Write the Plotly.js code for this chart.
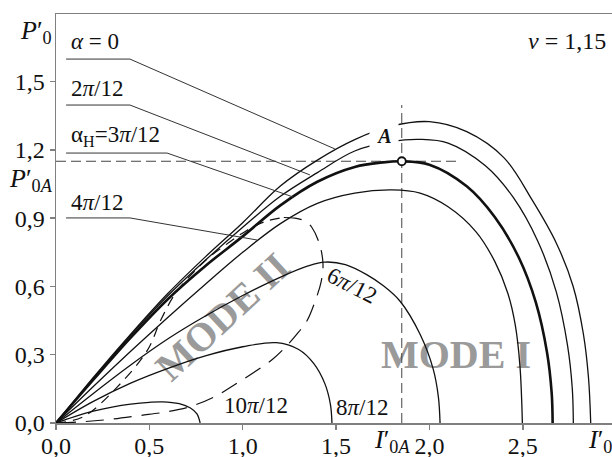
<!DOCTYPE html>
<html>
<head>
<meta charset="utf-8">
<script src="https://cdn.plot.ly/plotly-3.0.1.min.js"></script>
<style>
  html, body { margin: 0; padding: 0; background: #fff; }
  #chart { width: 612px; height: 457px; }
</style>
</head>
<body>
<div id="chart"></div>
<script>
// Load characteristics P'0(I'0) for several control angles, nu = 1.15

// alpha = 0
const iAlpha0 = [0, 0.2, 0.4, 0.6, 0.8, 1.0, 1.2, 1.4, 1.6, 1.8, 2.0, 2.2, 2.4, 2.55, 2.68, 2.77, 2.825, 2.852, 2.864];
const pAlpha0 = [0, 0.2, 0.39, 0.57, 0.73, 0.88, 1.04, 1.155, 1.245, 1.305, 1.324, 1.28, 1.165, 0.98, 0.79, 0.6, 0.39, 0.2, 0];

// alpha = 2pi/12
const iAlpha2 = [0, 0.2, 0.4, 0.6, 0.8, 1.0, 1.2, 1.4, 1.6, 1.8, 1.95, 2.1, 2.3, 2.45, 2.58, 2.68, 2.74, 2.765, 2.771];
const pAlpha2 = [0, 0.195, 0.385, 0.56, 0.715, 0.86, 0.995, 1.1, 1.195, 1.237, 1.246, 1.23, 1.13, 0.99, 0.8, 0.575, 0.34, 0.155, 0];

// alpha_H = 3pi/12 (passes through the operating point A)
const iAlpha3 = [0, 0.2, 0.4, 0.6, 0.8, 1.0, 1.2, 1.4, 1.6, 1.75, 1.852, 2.0, 2.2, 2.35, 2.48, 2.57, 2.63, 2.655, 2.66];
const pAlpha3 = [0, 0.19, 0.375, 0.545, 0.69, 0.82, 0.955, 1.06, 1.125, 1.145, 1.15, 1.135, 1.04, 0.905, 0.725, 0.53, 0.31, 0.13, 0];

// alpha = 4pi/12
const iAlpha4 = [0, 0.2, 0.4, 0.6, 0.8, 1.0, 1.2, 1.4, 1.6, 1.8, 1.95, 2.1, 2.25, 2.35, 2.42, 2.46, 2.485, 2.498];
const pAlpha4 = [0, 0.16, 0.315, 0.465, 0.61, 0.75, 0.875, 0.965, 1.01, 1.024, 1.01, 0.95, 0.84, 0.71, 0.57, 0.43, 0.25, 0];

// alpha = 6pi/12
const iAlpha6 = [0, 0.2, 0.4, 0.6, 0.8, 1.0, 1.2, 1.35, 1.44, 1.55, 1.664, 1.75, 1.843, 1.95, 2.02, 2.048, 2.057];
const pAlpha6 = [0, 0.13, 0.255, 0.37, 0.47, 0.56, 0.64, 0.69, 0.707, 0.696, 0.652, 0.605, 0.535, 0.39, 0.238, 0.115, 0];

// alpha = 8pi/12
const iAlpha8 = [0, 0.2, 0.4, 0.6, 0.8, 1.0, 1.18, 1.3, 1.38, 1.44, 1.47, 1.478];
const pAlpha8 = [0, 0.095, 0.175, 0.24, 0.295, 0.335, 0.353, 0.323, 0.262, 0.173, 0.081, 0];

// alpha = 10pi/12
const iAlpha10 = [0, 0.1, 0.2, 0.3, 0.4, 0.5, 0.57, 0.66, 0.72, 0.755, 0.772];
const pAlpha10 = [0, 0.028, 0.052, 0.07, 0.083, 0.091, 0.093, 0.085, 0.066, 0.04, 0];

// Boundary between MODE I and MODE II: left branch (short dashes)
const iBoundLeft = [0, 0.145, 0.33, 0.49, 0.56, 0.64, 0.74, 0.83, 0.93, 1.02, 1.12, 1.22];
const pBoundLeft = [0, 0.027, 0.16, 0.32, 0.45, 0.57, 0.665, 0.735, 0.795, 0.845, 0.885, 0.903];

// Boundary between MODE I and MODE II: right and lower branch (long dashes)
const iBoundRight = [1.22, 1.28, 1.34, 1.37, 1.41, 1.43, 1.42, 1.39, 1.345, 1.30, 1.24, 1.16, 1.055, 0.95, 0.86, 0.73, 0.6, 0.45, 0.3, 0.15, 0];
const pBoundRight = [0.903, 0.9, 0.885, 0.86, 0.79, 0.7, 0.62, 0.54, 0.45, 0.4, 0.343, 0.28, 0.22, 0.165, 0.12, 0.075, 0.05, 0.033, 0.017, 0.006, 0];

// Operating point A
const I0A = 1.852;
const P0A = 1.15;

// Axis ticks
const xTickVals = [0, 0.5, 1.0, 1.5, 2.0, 2.5];
const xTickText = ['0,0', '0,5', '1,0', '1,5', '2,0', '2,5'];
const yTickVals = [0, 0.3, 0.6, 0.9, 1.2, 1.5];
const yTickText = ['0,0', '0,3', '0,6', '0,9', '1,2', '1,5'];

const SERIF = 'Liberation Serif';
const INK = '#111111';

function curve(x, y, width, dash) {
  return {
    type: 'scatter', mode: 'lines', x: x, y: y,
    line: { color: INK, width: width, shape: 'spline', smoothing: 1, dash: dash || 'solid' },
    hoverinfo: 'skip'
  };
}

const traces = [
  curve(iBoundLeft, pBoundLeft, 1.2, '10px,7px'),
  curve(iBoundRight, pBoundRight, 1.2, '18px,10px'),
  curve(iAlpha10, pAlpha10, 1.3),
  curve(iAlpha8, pAlpha8, 1.3),
  curve(iAlpha6, pAlpha6, 1.3),
  curve(iAlpha4, pAlpha4, 1.3),
  curve(iAlpha2, pAlpha2, 1.3),
  curve(iAlpha0, pAlpha0, 1.3),
  curve(iAlpha3, pAlpha3, 2.6),
  {
    type: 'scatter', mode: 'markers', x: [I0A], y: [P0A],
    marker: { size: 8, color: '#ffffff', line: { color: INK, width: 1.8 } },
    hoverinfo: 'skip'
  }
];

// Leader lines from the angle labels to their curves
function leader(x0, x1, y0, x2, y2) {
  return {
    type: 'path', xref: 'x', yref: 'y', layer: 'above',
    path: 'M' + x0 + ',' + y0 + ' L' + x1 + ',' + y0 + ' L' + x2 + ',' + y2,
    line: { color: '#333333', width: 1 }
  };
}

const shapes = [
  // guide lines through point A
  { type: 'line', xref: 'x', yref: 'y', layer: 'below', x0: 0, x1: 2.148, y0: P0A, y1: P0A,
    line: { color: '#444444', width: 1, dash: '10px,5px' } },
  { type: 'line', xref: 'x', yref: 'y', layer: 'below', x0: I0A, x1: I0A, y0: 0, y1: 1.397,
    line: { color: '#444444', width: 1, dash: '10px,5px' } },
  leader(0.054, 0.396, 1.599, 1.494, 1.204),
  leader(0.054, 0.396, 1.397, 1.36, 1.09),
  leader(0.054, 0.595, 1.186, 1.27, 0.993),
  leader(0.054, 0.396, 0.901, 1.077, 0.804)
];

function label(text, x, y, opts) {
  return Object.assign({
    text: text, x: x, y: y, xref: 'x', yref: 'y', showarrow: false,
    xanchor: 'left', yanchor: 'middle',
    font: { family: SERIF, size: 23, color: '#111' }
  }, opts || {});
}

function axisName(text, xref, x, y, anchor, size) {
  return { text: text, xref: xref, yref: 'paper', x: x, y: y, showarrow: false,
    xanchor: anchor || 'center', yanchor: 'middle',
    font: { family: SERIF, size: size || 26, color: '#111' } };
}

const annotations = [
  // zone names (moved beneath the curves after drawing)
  label('<b>MODE II</b>', 0.894, 0.466, { xanchor: 'center', textangle: -43,
    font: { family: SERIF, size: 40, color: '#9a9a9a' } }),
  label('<b>MODE I</b>', 2.142, 0.299, { xanchor: 'center',
    font: { family: SERIF, size: 40, color: '#9a9a9a' } }),

  label('<i>α</i> = 0', 0.072, 1.674),
  label('2<i>π</i>/12', 0.072, 1.468),
  label('α<sub>H</sub>=3<i>π</i>/12', 0.072, 1.262),
  label('4<i>π</i>/12', 0.072, 0.97),
  label('6<i>π</i>/12', 1.585, 0.606, { xanchor: 'center', textangle: 27 }),
  label('8<i>π</i>/12', 1.64, 0.066, { xanchor: 'center' }),
  label('10<i>π</i>/12', 1.071, 0.075, { xanchor: 'center' }),

  // point A, on a white patch that interrupts the two upper curves
  label('<b><i>A</i></b>', 1.757, 1.261, { xanchor: 'center', bgcolor: '#ffffff',
    width: 28, height: 26, borderpad: 0, font: { family: SERIF, size: 20, color: '#111' } }),

  // axis names and marked values
  axisName('<i>P</i>′<sub>0</sub>', 'paper', -0.036, 0.956),
  axisName('<i>P</i>′<sub>0<i>A</i></sub>', 'paper', -0.045, 0.594),
  axisName('<i>I</i>′<sub>0<i>A</i></sub>', 'x', 1.80, -0.045),
  axisName('<i>I</i>′<sub>0</sub>', 'paper', 0.978, -0.045),
  axisName('<i>ν</i> = 1,15', 'paper', 0.993, 0.934, 'right', 24)
];

const axisCommon = {
  showgrid: false, zeroline: false, showline: true,
  linecolor: '#808080', linewidth: 1.5,
  ticks: 'outside', ticklen: 5, tickwidth: 1.5, tickcolor: '#808080',
  tickfont: { family: SERIF, size: 24, color: '#111' },
  fixedrange: true
};

const layout = {
  width: 612, height: 457,
  margin: { l: 56, r: 0, t: 14, b: 34, pad: 0 },
  paper_bgcolor: '#ffffff',
  plot_bgcolor: 'rgba(0,0,0,0)',
  showlegend: false,
  font: { family: SERIF, color: '#111' },
  xaxis: Object.assign({}, axisCommon, {
    range: [0, 2.978], tickmode: 'array', tickvals: xTickVals, ticktext: xTickText, mirror: true,
    ticklabelstandoff: -4
  }),
  yaxis: Object.assign({}, axisCommon, {
    range: [0, 1.797], tickmode: 'array', tickvals: yTickVals, ticktext: yTickText
  }),
  shapes: shapes,
  annotations: annotations
};

Plotly.newPlot('chart', traces, layout, { staticPlot: true, displayModeBar: false }).then(function (gd) {
  // put the two zone names underneath the curves
  const cart = gd.querySelector('.cartesianlayer');
  [0, 1].forEach(function (i) {
    const g = gd.querySelector('.infolayer .annotation[data-index="' + i + '"]');
    if (g && cart) cart.parentNode.insertBefore(g, cart);
  });
});
</script>
</body>
</html>
